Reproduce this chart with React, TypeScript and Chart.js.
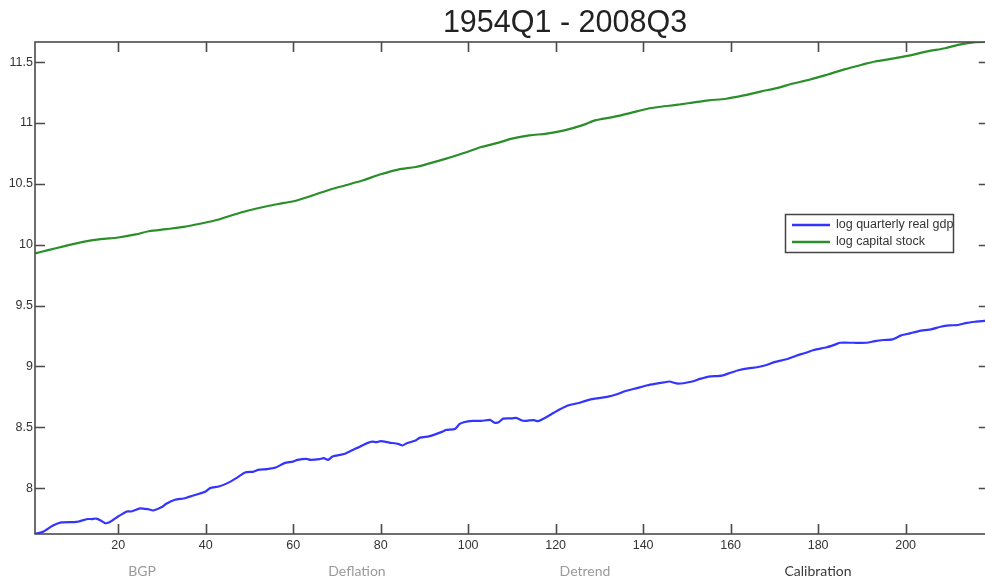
import React, { useEffect, useRef } from "react";
import { Chart, registerables } from "chart.js";

Chart.register(...registerables);

const TITLE = "1954Q1 - 2008Q3";
const SERIES_NAMES = ["log quarterly real gdp", "log capital stock"];
const TAB_LABELS = ["BGP", "Deflation", "Detrend", "Calibration"];
const X_TICKS = [20, 40, 60, 80, 100, 120, 140, 160, 180, 200];
const Y_TICKS = [8, 8.5, 9, 9.5, 10, 10.5, 11, 11.5];
const X_MIN = 1;
const X_MAX = 219;
const Y_MIN = 7.623;
const Y_MAX = 11.665;

const gdpQuarter = [
  1, 3, 5, 7, 10, 11, 13, 14, 15, 16, 17, 18, 20, 22, 23, 25, 26, 27, 28, 30,
  31, 33, 35, 36, 38, 40, 41, 43, 45, 47, 49, 51, 52, 54, 56, 58, 60, 61, 63, 64,
  66, 67, 68, 69, 71, 72, 74, 75, 76, 78, 79, 80, 82, 84, 85, 86, 88, 89, 91, 92,
  94, 95, 97, 98, 99, 101, 103, 105, 106, 107, 108, 110, 111, 112, 113, 114, 115, 116, 117, 119,
  121, 123, 125, 127, 129, 132, 134, 136, 138, 141, 143, 145, 146, 148, 151, 153, 155, 158, 160, 162,
  164, 166, 168, 170, 173, 175, 177, 179, 182, 184, 185, 188, 191, 193, 195, 197, 199, 201, 203, 206,
  208, 210, 212, 214, 216, 219,
];
const gdpLog = [
  7.623, 7.644, 7.69, 7.718, 7.721, 7.726, 7.746, 7.746, 7.75, 7.734, 7.712, 7.72, 7.767, 7.808, 7.808, 7.833, 7.83, 7.826, 7.816, 7.844,
  7.871, 7.904, 7.915, 7.926, 7.948, 7.972, 8.0, 8.013, 8.041, 8.082, 8.128, 8.136, 8.15, 8.156, 8.169, 8.205, 8.218, 8.232, 8.24, 8.232,
  8.238, 8.246, 8.232, 8.259, 8.275, 8.285, 8.32, 8.335, 8.355, 8.382, 8.377, 8.386, 8.374, 8.363, 8.35, 8.369, 8.392, 8.415, 8.425, 8.435,
  8.462, 8.478, 8.486, 8.525, 8.541, 8.552, 8.552, 8.56, 8.538, 8.541, 8.571, 8.573, 8.577, 8.56, 8.552, 8.556, 8.558, 8.55, 8.566, 8.607,
  8.648, 8.681, 8.697, 8.719, 8.735, 8.751, 8.771, 8.798, 8.816, 8.845, 8.858, 8.87, 8.876, 8.858, 8.874, 8.897, 8.916, 8.924, 8.948, 8.97,
  8.984, 8.993, 9.009, 9.035, 9.061, 9.088, 9.11, 9.135, 9.157, 9.181, 9.194, 9.194, 9.194, 9.208, 9.217, 9.222, 9.255, 9.271, 9.29, 9.306,
  9.326, 9.337, 9.34, 9.358, 9.367, 9.378,
];

const capQuarter = [
  1, 4, 8, 12, 16, 20, 24, 27, 31, 35, 39, 43, 46, 50, 54, 58, 61, 68, 72, 76,
  80, 84, 88, 91, 95, 99, 103, 107, 110, 114, 118, 122, 126, 129, 133, 137, 141, 144, 148, 152,
  155, 159, 163, 167, 171, 174, 178, 182, 186, 190, 193, 197, 201, 205, 209, 212, 216, 219,
];
const capLog = [
  9.928, 9.955, 9.99, 10.023, 10.045, 10.059, 10.084, 10.11, 10.127, 10.146, 10.174, 10.207, 10.242, 10.283, 10.316, 10.343, 10.365, 10.447, 10.488, 10.529,
  10.578, 10.617, 10.638, 10.666, 10.707, 10.753, 10.802, 10.838, 10.871, 10.898, 10.912, 10.939, 10.98, 11.021, 11.048, 11.081, 11.117, 11.133, 11.15, 11.171,
  11.185, 11.199, 11.226, 11.259, 11.29, 11.322, 11.355, 11.396, 11.44, 11.478, 11.505, 11.528, 11.555, 11.588, 11.614, 11.642, 11.664, 11.665,
];

const COLORS = ["#3434ff", "#2a8f2a"];
const TAB_X = [142, 357, 585, 818];
const TAB_COLORS = ["#9a9a9a", "#9a9a9a", "#9a9a9a", "#3a3a3a"];

const CANVAS_W = 1000;
const CANVAS_H = 579;
const AXIS_FONT = "'Liberation Sans', Arial, sans-serif";

const framePlugin = {
  id: "matlabFrame",
  afterDraw(chart: any) {
    const ctx = chart.ctx;
    const { left, right, top, bottom } = chart.chartArea;
    const xs = chart.scales.x;
    const ys = chart.scales.y;
    const tl = 10;
    ctx.save();
    ctx.strokeStyle = "#4a4a4a";
    ctx.lineWidth = 1.6;
    ctx.strokeRect(left, top, right - left, bottom - top);
    ctx.beginPath();
    X_TICKS.forEach((v) => {
      const px = Math.round(xs.getPixelForValue(v)) + 0.5;
      ctx.moveTo(px, bottom);
      ctx.lineTo(px, bottom - tl);
      ctx.moveTo(px, top);
      ctx.lineTo(px, top + tl);
    });
    Y_TICKS.forEach((v) => {
      const py = Math.round(ys.getPixelForValue(v)) + 0.5;
      ctx.moveTo(left, py);
      ctx.lineTo(left + tl, py);
      ctx.moveTo(right, py);
      ctx.lineTo(right - tl, py);
    });
    ctx.stroke();

    // title
    ctx.fillStyle = "#222222";
    ctx.font = "30.5px " + AXIS_FONT;
    ctx.textAlign = "center";
    ctx.textBaseline = "alphabetic";
    ctx.fillText(TITLE, 565, 32);

    // legend
    const bx = 785.5, by = 214.5, bw = 168, bh = 38;
    ctx.fillStyle = "#ffffff";
    ctx.fillRect(bx, by, bw, bh);
    ctx.strokeStyle = "#444444";
    ctx.lineWidth = 1.5;
    ctx.strokeRect(bx, by, bw, bh);
    ctx.font = "12.5px " + AXIS_FONT;
    ctx.textAlign = "left";
    ctx.textBaseline = "middle";
    SERIES_NAMES.forEach((name, i) => {
      const y = 225 + i * 17;
      ctx.strokeStyle = COLORS[i];
      ctx.lineWidth = 2.5;
      ctx.beginPath();
      ctx.moveTo(792, y);
      ctx.lineTo(830, y);
      ctx.stroke();
      ctx.fillStyle = "#333333";
      ctx.fillText(name, 836, y);
    });
    ctx.restore();
  },
};

export default function App() {
  const ref = useRef<HTMLCanvasElement>(null);

  useEffect(() => {
    if (!ref.current) return;
    const chart = new Chart(ref.current, {
      type: "line",
      data: {
        datasets: [
          {
            label: SERIES_NAMES[0],
            data: gdpQuarter.map((q, i) => ({ x: q, y: gdpLog[i] })),
            borderColor: COLORS[0],
            borderWidth: 2.2,
            pointRadius: 0,
            tension: 0.2,
          },
          {
            label: SERIES_NAMES[1],
            data: capQuarter.map((q, i) => ({ x: q, y: capLog[i] })),
            borderColor: COLORS[1],
            borderWidth: 2.2,
            pointRadius: 0,
            tension: 0.3,
          },
        ],
      },
      options: {
        animation: false,
        responsive: false,
        devicePixelRatio: 1,
        layout: { padding: { top: 42, right: CANVAS_W - 988.75, left: 0, bottom: 0 } },
        plugins: { legend: { display: false }, title: { display: false }, tooltip: { enabled: false } },
        scales: {
          x: {
            type: "linear",
            min: X_MIN,
            max: X_MAX,
            grid: { display: false, drawTicks: false },
            border: { display: false },
            afterBuildTicks: (s: any) => {
              s.ticks = X_TICKS.map((v) => ({ value: v }));
            },
            afterFit: (s: any) => {
              s.height = CANVAS_H - 534;
            },
            ticks: {
              padding: 4,
              maxRotation: 0,
              color: "#333333",
              font: { family: AXIS_FONT, size: 12.5 },
              callback: (v: any) => String(v),
            },
          },
          y: {
            type: "linear",
            min: Y_MIN,
            max: Y_MAX,
            grid: { display: false, drawTicks: false },
            border: { display: false },
            afterBuildTicks: (s: any) => {
              s.ticks = Y_TICKS.map((v) => ({ value: v }));
            },
            afterFit: (s: any) => {
              s.width = 35;
            },
            ticks: {
              padding: 2,
              color: "#333333",
              font: { family: AXIS_FONT, size: 12.5 },
              callback: (v: any) => String(v),
            },
          },
        },
      },
      plugins: [framePlugin],
    });
    return () => chart.destroy();
  }, []);

  return (
    <div
      style={{
        position: "fixed",
        left: 0,
        top: 0,
        width: 985,
        height: 579,
        overflow: "hidden",
        background: "#ffffff",
      }}
    >
      <canvas
        ref={ref}
        width={CANVAS_W}
        height={CANVAS_H}
        style={{ position: "absolute", left: 0, top: 0, width: CANVAS_W, height: CANVAS_H }}
      />
      {TAB_LABELS.map((t, i) => (
        <span
          key={t}
          style={{
            position: "absolute",
            left: TAB_X[i],
            top: 562,
            transform: "translateX(-50%)",
            fontFamily: "Lato, 'Open Sans', sans-serif",
            fontSize: 14,
            lineHeight: "18px",
            color: TAB_COLORS[i],
            whiteSpace: "nowrap",
          }}
        >
          {t}
        </span>
      ))}
    </div>
  );
}
